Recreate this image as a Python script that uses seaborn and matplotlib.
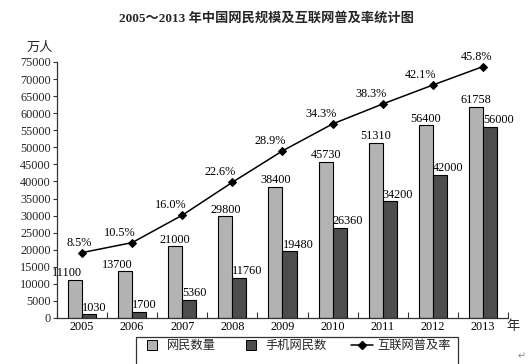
import matplotlib
matplotlib.use("Agg")
import matplotlib.pyplot as plt
from matplotlib.lines import Line2D
from matplotlib.patches import Rectangle
import seaborn as sns
import pandas as pd
import numpy as np

# 数据
years = ['2005', '2006', '2007', '2008', '2009', '2010', '2011', '2012', '2013']
netizens = [11100, 13700, 21000, 29800, 38400, 45730, 51310, 56400, 61758]
mobile = [1030, 1700, 5360, 11760, 19480, 26360, 34200, 42000, 56000]
rate = [8.5, 10.5, 16.0, 22.6, 28.9, 34.3, 38.3, 42.1, 45.8]
series_names = ['网民数量', '手机网民数', '互联网普及率']

sns.set_theme(style="ticks")
plt.rcParams['font.family'] = ['Liberation Serif', 'Noto Sans CJK SC']
plt.rcParams['axes.unicode_minus'] = False

colors = {'网民数量': '#b3b3b3', '手机网民数': '#4d4d4d'}

df = pd.DataFrame({
    '年份': years * 2,
    '人数': netizens + mobile,
    '类别': [series_names[0]] * len(years) + [series_names[1]] * len(years),
})

fig = plt.figure(figsize=(5.3, 3.64), dpi=100)
ax = fig.add_axes([0.1075, 0.1264, 0.851, 0.7033])

sns.barplot(data=df, x='年份', y='人数', hue='类别', palette=colors, width=0.56,
            saturation=1, edgecolor='black', linewidth=0.8, legend=False, ax=ax)

ax.set_xlim(-0.5, len(years) - 0.5)
ax.set_ylim(0, 75000)
ax.set_yticks(range(0, 75001, 5000))
ax.set_xlabel('')
ax.set_ylabel('')
ax.set_xticks(np.arange(-0.5, len(years), 1), minor=True)
ax.tick_params(axis='x', which='major', length=0, pad=2, labelsize=8.8, colors='black')
ax.tick_params(axis='x', which='minor', direction='in', length=4, width=0.8, color='#333333')
ax.tick_params(axis='y', direction='out', length=3, width=0.8, pad=1.5, labelsize=8.8, color='#333333')
for s in ['top', 'right']:
    ax.spines[s].set_visible(False)
for s in ['left', 'bottom']:
    ax.spines[s].set_linewidth(0.9)
    ax.spines[s].set_color('#333333')

# 柱子数值标签
for i, p in enumerate(ax.containers[0]):
    h = p.get_height()
    if i < 2:
        x, ha = p.get_x() + p.get_width(), 'right'
    else:
        x, ha = p.get_x() + p.get_width() / 2, 'center'
    ax.annotate(f'{int(h)}', (x, h), xytext=(0, 0.5), textcoords='offset points',
                ha=ha, va='bottom', fontsize=8.8, color='black')
for p in ax.containers[1]:
    h = p.get_height()
    ax.annotate(f'{int(h)}', (p.get_x(), h), xytext=(0, 0.5), textcoords='offset points',
                ha='left', va='bottom', fontsize=8.8, color='black')

# 普及率折线（次坐标轴）
ax2 = ax.twinx()
xs = np.arange(len(years))
sns.lineplot(x=xs, y=rate, ax=ax2, color='black', linewidth=1.1, marker='D',
             markersize=4, markeredgecolor='black')
ax2.set_ylim(-4.61, 46.72)
ax2.axis('off')
for i, (x, r) in enumerate(zip(xs, rate)):
    dx = -3 if i == 0 else (-6 if i == len(rate) - 1 else -12)
    ax2.annotate(f'{r:.1f}%', (x, r), xytext=(dx, 10), textcoords='offset pixels',
                 ha='center', va='center', fontsize=8.8, color='black')

# 标题与单位
fig.text(0.503, 0.95, '2005～2013 年中国网民规模及互联网普及率统计图', ha='center', va='center',
         fontsize=9.5, fontweight='bold')
fig.text(0.0755, 0.868, '万人', ha='center', va='center', fontsize=9.5)
fig.text(0.968, 0.102, '年', ha='center', va='center', fontsize=9.5)
fig.text(0.985, 0.022, '↵', ha='center', va='center', fontsize=7, color='#888888',
         family=['DejaVu Sans'])

# 图例
handles = [
    Line2D([], [], linestyle='none', marker='s', markersize=7, markerfacecolor=colors['网民数量'],
           markeredgecolor='black', markeredgewidth=0.7),
    Line2D([], [], linestyle='none', marker='s', markersize=7, markerfacecolor=colors['手机网民数'],
           markeredgecolor='black', markeredgewidth=0.7),
    Line2D([], [], color='black', linewidth=1.1, marker='D', markersize=4),
]
fig.legend(handles, series_names, loc='center left', bbox_to_anchor=(141 / 530, 1 - 346 / 364),
           ncol=3, frameon=False, fontsize=8.8, handlelength=1.8, handletextpad=0.3,
           columnspacing=2.0, borderpad=0, borderaxespad=0)
fig.patches.append(Rectangle((136 / 530, -0.05), (458 - 136) / 530, 0.05 + 1 - 337 / 364,
                             transform=fig.transFigure, fill=False, edgecolor='#333333',
                             linewidth=0.9, clip_on=False))

fig.savefig('out.png', dpi=100)
